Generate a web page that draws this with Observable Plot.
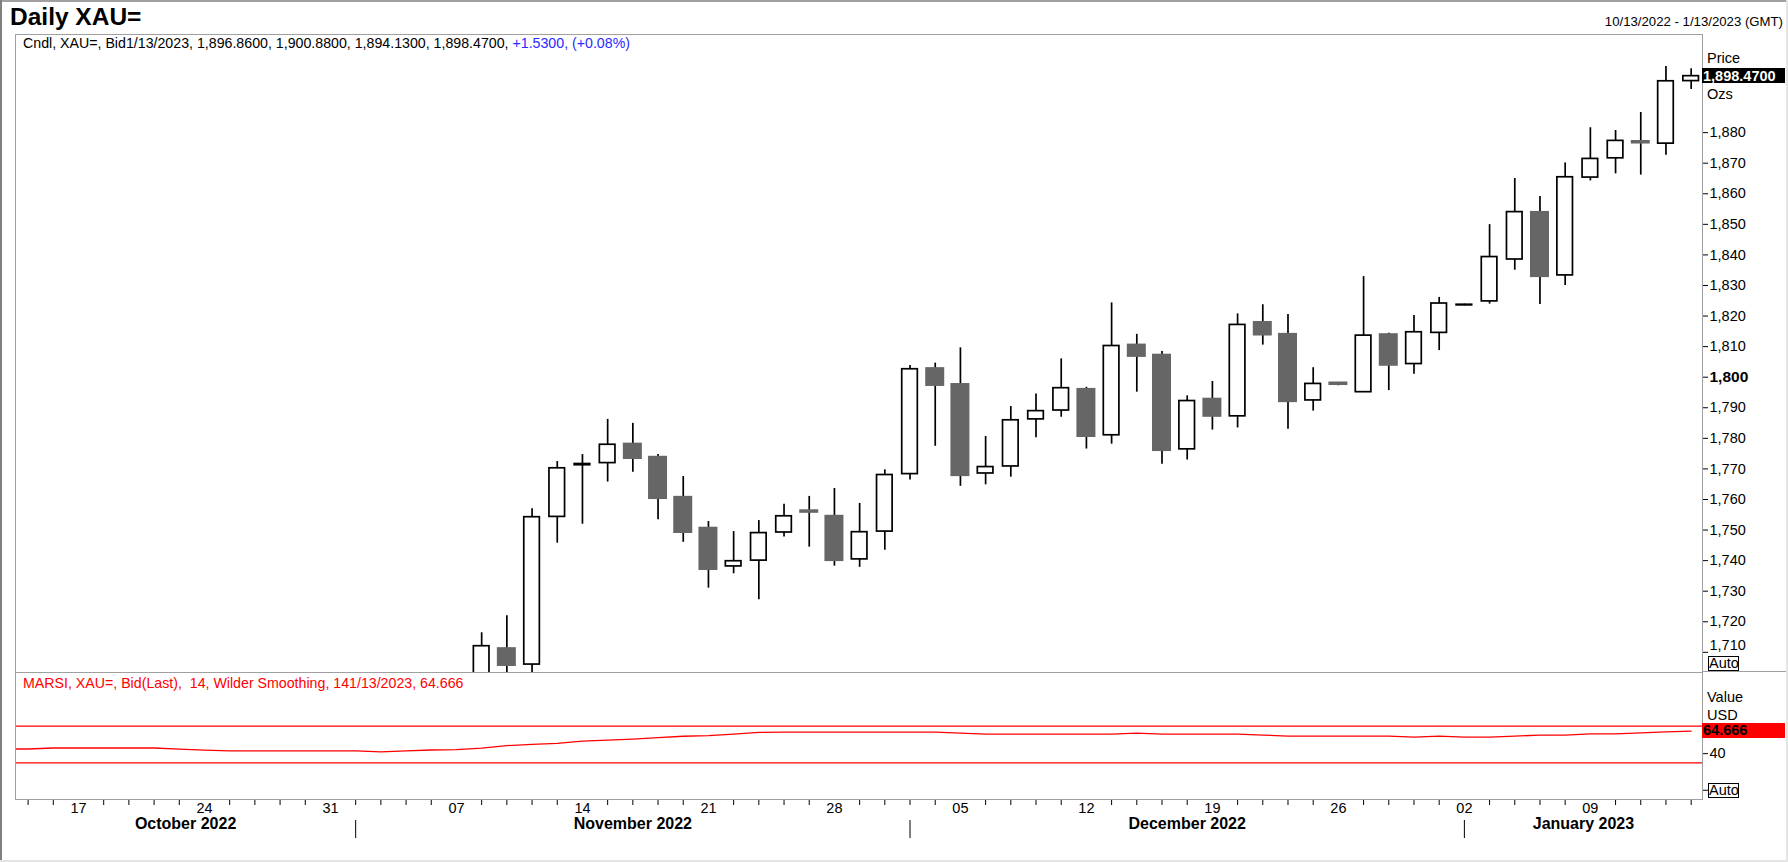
<!DOCTYPE html>
<html>
<head>
<meta charset="utf-8">
<script src="https://cdn.jsdelivr.net/npm/d3@7"></script>
<script src="https://cdn.jsdelivr.net/npm/@observablehq/plot@0.6"></script>
<style>
html,body{margin:0;padding:0;background:#fff;overflow:hidden;}
#page{position:relative;width:1788px;height:862px;overflow:hidden;background:#fff;font-family:"Liberation Sans",Arial,sans-serif;color:#000;}
.abs{position:absolute;white-space:pre;line-height:1;}
.chart{position:absolute;left:0;}
</style>
</head>
<body>
<div id="page"></div>
<script>
// ---------------- DATA ----------------
const tradingDays = [
 "2022-10-12","2022-10-13","2022-10-14","2022-10-17","2022-10-18","2022-10-19","2022-10-20","2022-10-21",
 "2022-10-24","2022-10-25","2022-10-26","2022-10-27","2022-10-28","2022-10-31",
 "2022-11-01","2022-11-02","2022-11-03","2022-11-04","2022-11-07","2022-11-08","2022-11-09","2022-11-10","2022-11-11",
 "2022-11-14","2022-11-15","2022-11-16","2022-11-17","2022-11-18","2022-11-21","2022-11-22","2022-11-23","2022-11-24","2022-11-25",
 "2022-11-28","2022-11-29","2022-11-30",
 "2022-12-01","2022-12-02","2022-12-05","2022-12-06","2022-12-07","2022-12-08","2022-12-09","2022-12-12","2022-12-13","2022-12-14","2022-12-15","2022-12-16",
 "2022-12-19","2022-12-20","2022-12-21","2022-12-22","2022-12-23","2022-12-26","2022-12-27","2022-12-28","2022-12-29","2022-12-30",
 "2023-01-02","2023-01-03","2023-01-04","2023-01-05","2023-01-06","2023-01-09","2023-01-10","2023-01-11","2023-01-12","2023-01-13"
];

const candleDates = [
 "2022-11-08","2022-11-09","2022-11-10","2022-11-11","2022-11-14","2022-11-15","2022-11-16","2022-11-17","2022-11-18",
 "2022-11-21","2022-11-22","2022-11-23","2022-11-24","2022-11-25","2022-11-28","2022-11-29","2022-11-30",
 "2022-12-01","2022-12-02","2022-12-05","2022-12-06","2022-12-07","2022-12-08","2022-12-09","2022-12-12","2022-12-13",
 "2022-12-14","2022-12-15","2022-12-16","2022-12-19","2022-12-20","2022-12-21","2022-12-22","2022-12-23","2022-12-26",
 "2022-12-27","2022-12-28","2022-12-29","2022-12-30",
 "2023-01-02","2023-01-03","2023-01-04","2023-01-05","2023-01-06","2023-01-09","2023-01-10","2023-01-11","2023-01-12","2023-01-13"
];
const openV = [
 1675.5,1711.1,1706.0,1754.3,1771.2,1771.9,1778.0,1773.7,1760.6,1750.5,1738.1,1740.0,1749.2,1756.2,1754.4,1740.4,1749.5,
 1768.3,1802.7,1797.5,1768.5,1770.8,1786.2,1789.1,1795.9,1781.0,1810.4,1807.1,1776.4,1792.7,1787.2,1817.8,1813.9,1792.4,1798.0,1795.1,1813.8,1804.3,1814.5,
 1823.5,1824.8,1838.5,1853.8,1833.3,1865.3,1871.6,1877.0,1876.4,1896.86
];
const highV = [
 1716.4,1722.0,1757.0,1772.4,1774.7,1786.2,1784.9,1774.7,1767.5,1752.8,1749.5,1753.1,1758.4,1761.0,1763.6,1758.7,1769.7,
 1803.8,1804.6,1809.6,1780.6,1790.4,1794.5,1806.0,1796.7,1824.3,1814.0,1808.4,1793.9,1798.6,1820.7,1823.7,1820.5,1803.1,1798.2,1832.9,1814.4,1820.2,1826.1,
 1823.9,1849.9,1865.0,1859.1,1870.1,1881.6,1880.7,1886.6,1901.6,1900.88
];
const lowV = [
 1667.5,1701.0,1700.5,1745.7,1751.9,1765.7,1768.9,1753.4,1746.0,1731.0,1735.7,1727.2,1747.7,1744.4,1738.2,1737.8,1743.4,
 1766.4,1777.4,1764.3,1764.8,1767.3,1780.2,1786.9,1776.5,1778.1,1795.1,1771.5,1772.9,1782.7,1783.4,1810.5,1783.0,1788.9,1797.2,1795.0,1795.6,1801.0,1808.7,
 1823.3,1823.9,1835.0,1823.8,1830.0,1864.2,1866.5,1866.1,1872.6,1894.13
];
const closeV = [
 1712.0,1705.8,1754.2,1770.2,1771.6,1777.9,1773.5,1760.4,1749.3,1737.2,1739.8,1749.0,1754.5,1755.9,1740.1,1749.3,1768.0,
 1802.6,1797.4,1767.9,1770.6,1785.9,1788.9,1796.4,1780.7,1810.2,1806.9,1776.1,1792.2,1787.3,1817.1,1813.9,1792.1,1797.8,1797.7,1813.6,1804.0,1814.7,1824.1,
 1823.7,1839.3,1854.0,1833.0,1865.4,1871.4,1877.3,1876.7,1896.8,1898.47
];

// MARSI (14, Wilder) per trading day
const rsiValues = [
 45.1,45.1,46.2,46.2,46.2,46.2,46.2,45.0,43.9,43.0,43.0,43.0,43.0,43.0,
 43.0,41.9,43.0,44.0,44.5,46.0,48.8,50.2,51.3,53.6,54.9,55.9,57.5,59.0,59.8,61.4,63.3,63.5,63.5,63.5,63.5,63.5,
 63.5,63.5,62.5,61.4,61.4,61.4,61.4,61.4,61.4,62.4,61.4,61.4,61.4,61.4,60.3,59.2,59.2,59.2,59.2,59.2,58.1,59.2,
 58.1,58.1,59.2,60.2,60.2,61.6,61.6,62.7,63.8,64.666
];
const rsiLevels = [70, 30];

const priceTicks = [1710,1720,1730,1740,1750,1760,1770,1780,1790,1800,1810,1820,1830,1840,1850,1860,1870,1880];
const rsiTicks = [40];

const titleText = "Daily XAU=";
const rangeText = "10/13/2022 - 1/13/2023 (GMT)";
const headerBlack = "Cndl, XAU=, Bid1/13/2023, 1,896.8600, 1,900.8800, 1,894.1300, 1,898.4700, ";
const headerBlue = "+1.5300, (+0.08%)";
const rsiHeader = "MARSI, XAU=, Bid(Last),  14, Wilder Smoothing, 141/13/2023, 64.666";
const lastClose = 1898.47;
const lastCloseLabel = "1,898.4700";
const lastRsi = 64.666;

// ---------------- BUILD ----------------
const idxOf = new Map(tradingDays.map((d, i) => [d, i]));
const candles = candleDates.map((d, k) => ({
  i: idxOf.get(d), open: openV[k], high: highV[k], low: lowV[k], close: closeV[k]
}));
const ups = candles.filter(d => d.close >= d.open);
const downs = candles.filter(d => d.close < d.open);
const rsiData = tradingDays.map((d, i) => ({i, v: rsiValues[i]}));

const parse = s => new Date(s + "T00:00:00Z");
const xDomain = [0.5, 67.45];
const days = tradingDays.map((d, i) => ({i, date: parse(d)})).filter(d => d.i >= xDomain[0]);
const mondays = days.filter(d => d.date.getUTCDay() === 1).map(d => ({i: d.i, label: d3.utcFormat("%d")(d.date)}));
const otherDays = days.filter(d => d.date.getUTCDay() !== 1).map(d => d.i);
const monthStarts = days.filter((d, k) => k > 0 && d.date.getUTCMonth() !== days[k - 1].date.getUTCMonth()).map(d => d.i);
const bounds = [xDomain[0], ...monthStarts, xDomain[1]];
const monthFirst = [days[0], ...monthStarts.map(i => days.find(d => d.i === i))];
const months = monthFirst.map((d, k) => ({mid: (bounds[k] + bounds[k + 1]) / 2, name: d3.utcFormat("%B %Y")(d.date)}));

const FONT = '"Liberation Sans", Arial, sans-serif';
const W = 1788, ML = 15, MR = 86;
const fmt = d3.format(",");

const pricePlot = Plot.plot({
  width: W, height: 672,
  marginTop: 34, marginBottom: 0, marginLeft: ML, marginRight: MR,
  x: {type: "linear", domain: xDomain, axis: null},
  y: {domain: [1703.4, 1912.1], axis: null, label: null},
  style: {fontFamily: FONT, fontSize: "14px", background: "transparent", overflow: "visible", color: "#000"},
  marks: [
    Plot.ruleX(candles, {x: "i", y1: "low", y2: "high", stroke: "#000", strokeWidth: 1.7, clip: true}),
    Plot.rect(downs, {x1: d => d.i - 0.5, x2: d => d.i + 0.5, y1: "open", y2: "close",
      insetLeft: 3.1, insetRight: 3.1, insetTop: -1.3, insetBottom: -1.3, fill: "#666666", clip: true}),
    Plot.rect(ups, {x1: d => d.i - 0.5, x2: d => d.i + 0.5, y1: "open", y2: "close",
      insetLeft: 4.8, insetRight: 4.8, fill: "#fff", stroke: "#000", strokeWidth: 1.7, clip: true}),
    Plot.frame({stroke: "#a0a0a0"}),
    Plot.axisY(priceTicks, {anchor: "right", label: null, tickSize: 5, tickPadding: 2, fontSize: 14.5, stroke: "#000",
      tickFormat: d => (d === 1800 || d === 1710) ? "" : fmt(d)}),
    Plot.text([1800], {y: d => d, text: d => fmt(d), frameAnchor: "right", dx: 7, textAnchor: "start", fontSize: 15.5, fontWeight: "bold"}),
    Plot.text([1710], {y: d => d, text: d => fmt(d), frameAnchor: "right", dx: 7, dy: -7, textAnchor: "start", fontSize: 14.5})
  ]
});

const rsiPlot = Plot.plot({
  width: W, height: 190,
  marginTop: 0, marginBottom: 63, marginLeft: ML, marginRight: MR,
  x: {type: "linear", domain: xDomain, axis: null, label: null},
  y: {domain: [-10.1, 128.7], axis: null, label: null},
  style: {fontFamily: FONT, fontSize: "14px", background: "transparent", overflow: "visible", color: "#000"},
  marks: [
    Plot.ruleY(rsiLevels, {stroke: "#ff0000", strokeWidth: 1.2}),
    Plot.line(rsiData, {x: "i", y: "v", stroke: "#ff0000", strokeWidth: 1.3, clip: true}),
    Plot.frame({stroke: "#a0a0a0"}),
    Plot.axisY(rsiTicks, {anchor: "right", label: null, tickSize: 5, tickPadding: 2, fontSize: 14.5, stroke: "#000"}),
    Plot.axisY([0], {anchor: "right", label: null, tickSize: 5, tickFormat: () => "", stroke: "#000"}),
    Plot.axisX(otherDays, {anchor: "bottom", label: null, tickSize: 5, dy: 1, tickFormat: () => "", stroke: "#000"}),
    Plot.text(mondays, {x: "i", text: "label", frameAnchor: "bottom", dy: 13, fontSize: 14.5}),
    Plot.axisX(monthStarts, {anchor: "bottom", label: null, tickSize: 18, dy: 21, tickFormat: () => "", stroke: "#000"}),
    Plot.text(months, {x: "mid", text: "name", frameAnchor: "bottom", dy: 29, fontSize: 16, fontWeight: "bold"})
  ]
});

const page = document.getElementById("page");
pricePlot.classList.add("chart"); pricePlot.style.top = "0px";
rsiPlot.classList.add("chart"); rsiPlot.style.top = "672px";
page.appendChild(pricePlot);
page.appendChild(rsiPlot);

function box(x, y, w, h, css) {
  const d = document.createElement("div");
  d.className = "abs";
  Object.assign(d.style, {left: x + "px", top: y + "px", width: w + "px", height: h + "px"}, css || {});
  page.appendChild(d); return d;
}
function txt(s, x, yc, size, css, anchorRight) {
  const d = document.createElement("div");
  d.className = "abs";
  d.textContent = s;
  Object.assign(d.style, {fontSize: size + "px", top: (yc - 0.49 * size) + "px"}, css || {});
  if (anchorRight) d.style.right = x + "px"; else d.style.left = x + "px";
  page.appendChild(d); return d;
}

// page borders
box(0, 0, 1788, 2, {background: "#a0a0a0"});
box(0, 0, 2, 862, {background: "#808080"});
box(1786, 0, 2, 862, {background: "#e4e4e4"});
box(0, 860, 1788, 2, {background: "#e4e4e4"});
// divider between panels across axis area
box(1702, 671, 84, 1, {background: "#a0a0a0"});

// titles
txt(titleText, 10, 17.5, 24.5, {fontWeight: "bold"});
txt(rangeText, 5, 21.5, 13.2, {}, true);
const h = txt(headerBlack, 23, 43, 14.2, {});
const blue = document.createElement("span"); blue.textContent = headerBlue; blue.style.color = "#2b2bff"; h.appendChild(blue);
txt(rsiHeader, 23, 682.5, 14.2, {color: "#ff0000"});

// price axis extras
const yP = pricePlot.scale("y");
txt("Price", 1707, 58.3, 14.5, {});
const yl = yP.apply(lastClose);
box(1702, yl - 7.7, 83, 15.4, {background: "#000"});
txt(lastCloseLabel, 1703, yl, 14.5, {color: "#fff", fontWeight: "bold"});
txt("Ozs", 1707, 94, 14.5, {});
box(1708, 656, 29, 13, {border: "1px solid #000", background: "#fff"});
txt("Auto", 1709, 663, 14.5, {});

// rsi axis extras
const yR = rsiPlot.scale("y");
txt("Value", 1707, 696.7, 14.5, {});
txt("USD", 1707, 715, 14.5, {});
const yr = 672 + yR.apply(lastRsi);
box(1702, yr - 7.7, 83, 15.4, {background: "#ff0000"});
txt(String(lastRsi), 1703, yr, 14.5, {color: "#000", fontWeight: "bold"});
const y0 = 672 + yR.apply(0);
box(1708, y0 - 7, 29, 13, {border: "1px solid #000", background: "#fff"});
txt("Auto", 1709, y0, 14.5, {});
</script>
</body>
</html>
